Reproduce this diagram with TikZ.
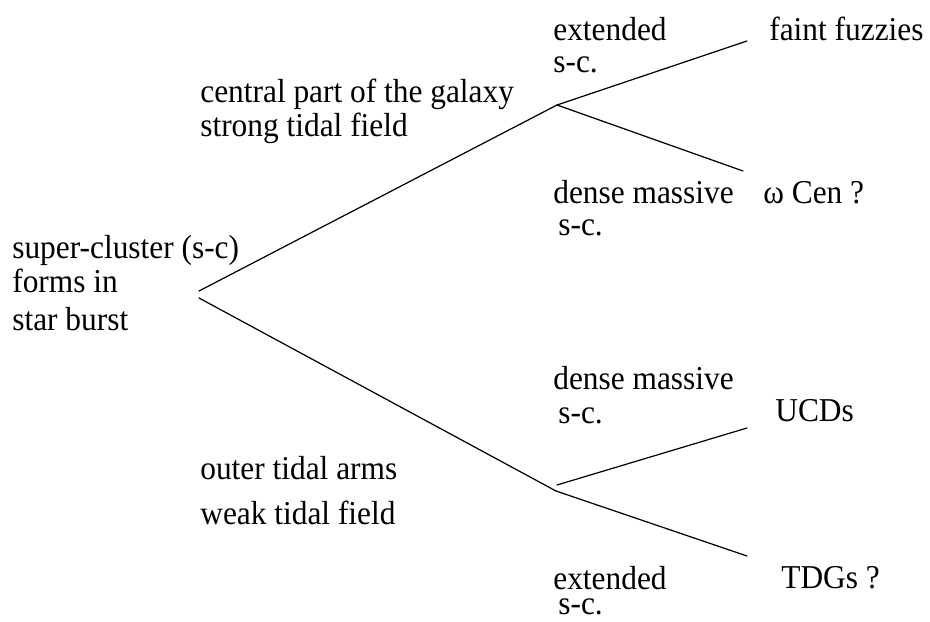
\documentclass[tikz,border=0pt]{standalone}
\usepackage{fontspec}
\setmainfont[FakeStretch=0.94]{Liberation Serif}
\usetikzlibrary{positioning}
\tikzset{
  lbl/.style={anchor=base west,inner sep=0pt,
              font=\fontsize{19}{22}\selectfont},
  branch/.style={line width=0.7pt,line cap=round}
}

\begin{document}
\begin{tikzpicture}[x=0.02cm,y=-0.02cm]
  \useasboundingbox (0,0) rectangle (930,622);

  % root of the tree
  \node[lbl] (root1) at (12,258) {super-cluster (s-c)};
  \node[lbl] (root2) at (12,292) {forms in};
  \node[lbl] (root3) at (12,330) {star burst};

  % upper branch: central part
  \node[lbl] (cen1) at (200,102) {central part of the galaxy};
  \node[lbl] (cen2) at (200,136) {strong tidal field};
  \node[lbl] (ext1) at (553,40)  {extended};
  \node[lbl] (ext2) at (553,72)  {s-c.};
  \node[lbl] (dns1) at (553,203) {dense massive};
  \node[lbl] (dns2) at (558,235) {s-c.};
  \node[lbl] (fuzz) at (769,40)  {faint fuzzies};
  \node[lbl] (ocen) at (763,203) {ω Cen ?};

  % lower branch: tidal arms
  \node[lbl] (arm1) at (200,479) {outer tidal arms};
  \node[lbl] (arm2) at (200,524) {weak tidal field};
  \node[lbl] (dns3) at (553,389) {dense massive};
  \node[lbl] (dns4) at (558,423) {s-c.};
  \node[lbl] (ext3) at (553,589) {extended};
  \node[lbl] (ext4) at (558,614) {s-c.};
  \node[lbl] (ucds) at (775,421) {UCDs};
  \node[lbl] (tdgs) at (781,588) {TDGs ?};

  % branch points and line ends
  \coordinate (rootA) at (199,291);
  \coordinate (rootB) at (199,298);
  \coordinate (upFork) at (557,105);
  \coordinate (loFork) at (556,491);
  \coordinate (loForkB) at (557,485);
  \coordinate (toFuzz) at (747,41);
  \coordinate (toOcen) at (743,171);
  \coordinate (toUcds) at (747,428);
  \coordinate (toTdgs) at (747,556);

  \draw[branch] (rootA) -- (upFork);
  \draw[branch] (rootB) -- (loFork);
  \draw[branch] (upFork) -- (toFuzz);
  \draw[branch] (upFork) -- (toOcen);
  \draw[branch] (loForkB) -- (toUcds);
  \draw[branch] (loFork) -- (toTdgs);

\end{tikzpicture}
\end{document}
